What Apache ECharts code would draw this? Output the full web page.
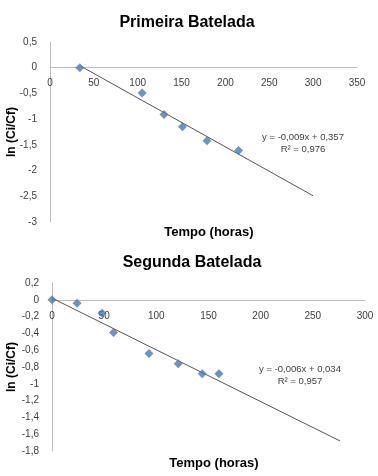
<!DOCTYPE html>
<html>
<head>
<meta charset="utf-8">
<script src="https://cdn.jsdelivr.net/npm/echarts@6/dist/echarts.min.js"></script>
<style>
    html, body {margin: 0; padding: 0; background: #fff;}
    #main {width: 378px; height: 476px;}
</style>
</head>
<body>
<div id="main"></div>
<script>
    // Primeira Batelada
    var tempo1 = [34, 105, 130, 151, 179, 215];
    var lnC1 = [0, -0.49, -0.91, -1.15, -1.42, -1.61];
    var trend1 = [[35, 0.03], [300, -2.49]];
    var eq1 = ['y = -0,009x + 0,357', 'R² = 0,976'];

    // Segunda Batelada
    var tempo2 = [0, 24, 48, 59, 93, 121, 144, 160];
    var lnC2 = [0, -0.04, -0.16, -0.39, -0.64, -0.76, -0.88, -0.88];
    var trend2 = [[0, 0.02], [276, -1.68]];
    var eq2 = ['y = -0,006x + 0,034', 'R² = 0,957'];

    var titulos = ['Primeira Batelada', 'Segunda Batelada'];
    var nomeX = 'Tempo (horas)';
    var nomeY = 'ln (Ci/Cf)';

    function pares(xs, ys) {
        var out = [];
        for (var i = 0; i < xs.length; i++) {
            out.push([xs[i], ys[i]]);
        }
        return out;
    }

    var fonte = 'Liberation Sans, Arial, sans-serif';
    var corEixo = '#bcbcbc';
    var corTexto = '#404040';
    var corPonto = '#4a78b0';

    var grids = [
        {left: 50, top: 42, width: 307, height: 180, outerBoundsMode: 'none', containLabel: false},
        {left: 52, top: 283, width: 313, height: 168, outerBoundsMode: 'none', containLabel: false}
    ];

    // eixo x colocado sobre o zero do eixo y (rotulos acompanham a linha)
    function eixoX(idx, max, yMin, yMax) {
        var h = grids[idx].height;
        return {
            type: 'value', gridIndex: idx, min: 0, max: max, interval: 50,
            position: 'bottom',
            offset: -h * (0 - yMin) / (yMax - yMin),
            axisLine: {onZero: false, lineStyle: {color: corEixo}},
            axisTick: {show: false},
            splitLine: {show: false},
            axisLabel: {color: corTexto, fontSize: 10, fontFamily: fonte, margin: 11}
        };
    }

    function eixoY(idx, min, max, step, gap) {
        return {
            type: 'value', gridIndex: idx, min: min, max: max, interval: step,
            name: nomeY, nameLocation: 'middle', nameGap: gap, nameRotate: 90,
            nameMoveOverlap: false,
            nameTextStyle: {color: '#000', fontSize: 12, fontWeight: 'bold', fontFamily: fonte},
            axisLine: {show: true, onZero: false, lineStyle: {color: corEixo}},
            axisTick: {show: false},
            splitLine: {show: false},
            axisLabel: {
                color: corTexto, fontSize: 10, fontFamily: fonte, margin: 13,
                formatter: function (v) {
                    return String(Math.round(v * 10) / 10).replace('.', ',');
                }
            }
        };
    }

    function titulo(text, left, top, size) {
        return {
            text: text, left: left, top: top, textAlign: 'center',
            textStyle: {fontSize: size, fontWeight: 'bold', color: '#000', fontFamily: fonte}
        };
    }

    function nota(text, left, top) {
        return {
            text: text, left: left, top: top, textAlign: 'center',
            textStyle: {fontSize: 9.5, fontWeight: 'normal', color: corTexto, fontFamily: fonte}
        };
    }

    var chart = echarts.init(document.getElementById('main'));
    var option = {
        backgroundColor: '#fff',
        animation: false,
        title: [
            titulo(titulos[0], 182, 10, 16),
            titulo(nomeX, 204, 221, 13),
            nota(eq1[0], 298, 127),
            nota(eq1[1], 298, 139),
            titulo(titulos[1], 187, 250, 16),
            titulo(nomeX, 209, 452, 13),
            nota(eq2[0], 295, 359),
            nota(eq2[1], 295, 371)
        ],
        grid: grids,
        xAxis: [eixoX(0, 350, -3, 0.5), eixoX(1, 300, -1.8, 0.2)],
        yAxis: [eixoY(0, -3, 0.5, 0.5, 32), eixoY(1, -1.8, 0.2, 0.2, 34)],
        series: [
            {
                type: 'line', xAxisIndex: 0, yAxisIndex: 0, data: trend1,
                symbol: 'none', lineStyle: {color: '#555', width: 1}, z: 1
            },
            {
                type: 'scatter', xAxisIndex: 0, yAxisIndex: 0, data: pares(tempo1, lnC1),
                symbol: 'diamond', symbolSize: 9, itemStyle: {color: corPonto}, z: 2
            },
            {
                type: 'line', xAxisIndex: 1, yAxisIndex: 1, data: trend2,
                symbol: 'none', lineStyle: {color: '#555', width: 1}, z: 1
            },
            {
                type: 'scatter', xAxisIndex: 1, yAxisIndex: 1, data: pares(tempo2, lnC2),
                symbol: 'diamond', symbolSize: 9, itemStyle: {color: corPonto}, z: 2
            }
        ]
    };
    chart.setOption(option);
</script>
</body>
</html>
